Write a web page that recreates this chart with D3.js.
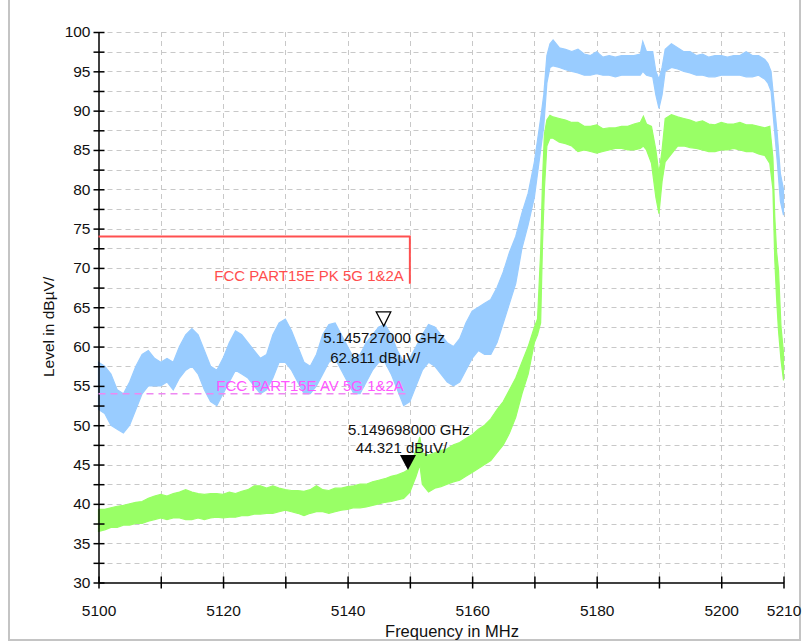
<!DOCTYPE html>
<html>
<head>
<meta charset="utf-8">
<script src="https://cdn.jsdelivr.net/npm/d3@7"></script>
<style>
  html, body { margin: 0; padding: 0; background: #fff; }
  svg { display: block; font-family: "Liberation Sans", Arial, sans-serif; }
</style>
</head>
<body>
<svg id="chart" width="807" height="643"></svg>
<script>
// ---------- DATA ----------
const peakFreq = [5100,5101,5102,5103,5104,5105,5106,5107,5108,5109,5110,5111,5112,5113,5114,5115,5116,5117,5118,5119,5120,5121,5122,5123,5124,5125,5126,5127,5128,5129,5130,5131,5132,5133,5134,5135,5136,5137,5138,5139,5140,5141,5142,5143,5144,5145,5146,5147,5148,5149,5150,5151,5152,5153,5154,5155,5156,5157,5158,5159,5160,5161,5162,5163,5164,5165,5166,5167,5168,5169,5170,5171,5171.5,5172,5172.5,5173,5174,5175,5176,5177,5178,5179,5180,5181,5182,5183,5184,5185,5186,5187,5187.4,5188,5189,5189.5,5190,5190.5,5191,5192,5193,5194,5195,5196,5197,5198,5199,5200,5201,5202,5203,5204,5205,5206,5207,5207.5,5208,5208.5,5209,5209.5,5210];
const peakHi = [58,57.5,56.5,54.5,54,55.5,57.5,59,59.5,58.5,58,58.5,58,60,61.5,62.3,61.5,59.5,57.5,57,58.5,60.5,62,61.5,60.5,59.5,58.5,59,61.5,63,63.5,62,60,58,57.5,59,61.5,62.8,63,61.5,60,58.5,59,60.5,61.5,62.5,62.8,61.5,59.5,58,58.5,60,61.5,62.8,62.5,61.5,60.5,60,61,63,64.5,65,65.5,66,67.5,69.5,72,74,77,79.5,83.5,89,92,97,98.5,99,98,97.8,97.5,97.8,97.2,97,97.5,96.8,97,96.8,97,97,97,97.2,98.8,97.5,97.5,95,94,95.5,97.8,98.5,98,97.5,97.5,97,97.2,96.8,97,97,96.8,97,97,97.5,97,97,96.5,96,95,91,87,82,80];
const peakLo = [52,51.5,50,49.5,49,50,52,54,55,55,55,55.5,54.5,56,57,57.5,56.5,54.5,53,52.5,54,55.5,57,56.5,56,55,54,54.5,56,58,58,57,55.5,54,54,55,56.5,58,58.5,57,55.5,54,54,55.5,57,58,58,56.5,54.5,52.5,53,55,57,58,57.5,56.5,55.5,55,55.5,57,58.5,59.5,59,59,60.5,63,65.5,68,72.5,75.5,79,85,88,93.5,95.5,95.7,95.5,95.2,95,94.8,94.5,94.5,94.7,94.5,94.5,94.3,94.5,94.5,94.5,94.5,95,94.5,94.3,92,90.3,92,95,95.5,95.3,95,94.8,94.5,94.5,94.3,94.3,94.5,94.5,94.5,94.5,94.3,94.3,94.5,94,93.5,92.5,88,83.5,78.5,76.7];

const avgFreq = [5100,5101,5102,5103,5104,5105,5106,5107,5108,5109,5110,5111,5112,5113,5114,5115,5116,5117,5118,5119,5120,5121,5122,5123,5124,5125,5126,5127,5128,5129,5130,5131,5132,5133,5134,5135,5136,5137,5138,5139,5140,5141,5142,5143,5144,5145,5146,5147,5148,5149,5150,5151,5151.6,5152,5153,5154,5155,5156,5157,5158,5159,5160,5161,5162,5163,5164,5165,5166,5167,5168,5169,5170,5170.5,5171,5171.3,5171.6,5172,5172.5,5173,5174,5175,5176,5177,5178,5179,5180,5181,5182,5183,5184,5185,5186,5187,5187.5,5188,5188.8,5189.5,5190,5190.5,5191,5192,5193,5194,5195,5196,5197,5198,5199,5200,5201,5202,5203,5204,5205,5206,5207,5207.8,5208.3,5208.6,5208.9,5209.2,5209.6,5210];
const avgHi = [39.3,39.3,39.5,39.7,39.8,40,40.2,40.3,40.7,41,41.2,41,41.3,41.5,41.8,41.5,41.3,41.2,41.3,41.3,41.2,41.5,41.3,41.6,41.8,42.3,42.3,42,42.3,42,41.8,41.7,41.7,41.6,41.8,42.3,41.8,41.7,42,42,42.2,42.3,42.5,42.5,42.8,43,43.2,43.5,43.7,44,44.5,47,48.5,46.5,46.2,46.5,46.8,47,47.5,47.8,48.3,48.8,49.5,50,50.8,52,53,54.5,56,58,60,62.5,63.5,72,81,87,88.8,89.4,89.2,89,88.8,88.5,88.5,88,88,88.2,87.7,87.8,87.8,88,88,88.3,88.5,89.3,88.3,88,85,82,85,89,89.5,89.2,89,88.8,88.5,88.7,88.3,88.2,88.5,88.3,88.3,88.5,88.2,88.2,88,87.8,88,84,76.5,72,69.7,62.5,59.2];
const avgLo = [36.5,36.7,37,37,37.3,37.3,37.5,37.5,37.8,38,38.2,38,38.2,38.2,38,38,38.2,38,38.2,38.3,38.2,38.3,38.3,38.5,38.5,38.7,38.7,38.8,38.8,39,39.2,39,38.8,38.5,38.8,39,39,38.8,39,39.2,39.3,39.5,39.5,39.6,39.8,40,40.2,40.3,40.5,40.7,41.5,43.5,45,42.5,41.5,42,42.2,42.5,42.8,43,43.5,44,44.5,45,45.5,46.5,47.5,49,51,54,56.5,60.5,61.5,63,73,80,85.5,86.5,86.5,86,85.8,85.5,84.8,85,84.8,84.6,84.8,85,85.2,85.2,85,85,85.2,85.5,85,83.3,79,76.9,81,83.5,84.5,85.5,85.5,85.3,85.2,85,84.8,84.8,85,85,85.2,85,84.8,84.8,84.5,84.3,83.3,80,71,66,62,58.3,55.7];

const yTickValues = [30,35,40,45,50,55,60,65,70,75,80,85,90,95,100];
const xTickLabels = [5100,5120,5140,5160,5180,5200,5210];

const pkLimit = { level: 74, endFreq: 5150, dropTo: 68, label: "FCC PART15E PK 5G 1&2A" };
const avLimit = { level: 54, endFreq: 5150, label: "FCC PART15E AV 5G 1&2A" };

const markers = [
  { freq: 5145.727, level: 62.811, f: "5.145727000 GHz", l: "62.811 dBµV/", filled: false },
  { freq: 5149.698, level: 44.321, f: "5.149698000 GHz", l: "44.321 dBµV/", filled: true }
];

// ---------- CHART ----------
const svg = d3.select("#chart");
const x = d3.scaleLinear().domain([5100, 5210]).range([98.5, 783.5]);
const y = d3.scaleLinear().domain([30, 100]).range([582.5, 32]);

// outer frame
svg.append("rect").attr("x", 9).attr("y", -2).attr("width", 791).attr("height", 642)
  .attr("fill", "none").attr("stroke", "#c4c4c4").attr("stroke-width", 2);

// grid
const grid = svg.append("g").attr("stroke", "#c8c8c8").attr("stroke-width", 1).attr("stroke-dasharray", "5,4");
grid.selectAll("line.h").data(d3.range(32.5, 100.01, 2.5)).join("line")
  .attr("x1", x(5100)).attr("x2", x(5210))
  .attr("y1", d => Math.round(y(d)) + 0.5).attr("y2", d => Math.round(y(d)) + 0.5);
grid.selectAll("line.v").data(d3.range(5110, 5210.01, 10)).join("line")
  .attr("y1", y(100)).attr("y2", y(30))
  .attr("x1", d => Math.round(x(d)) + 0.5).attr("x2", d => Math.round(x(d)) + 0.5);

// traces
const avgData = avgFreq.map((f, i) => ({ f, hi: avgHi[i], lo: avgLo[i] }));
const peakData = peakFreq.map((f, i) => ({ f, hi: peakHi[i], lo: peakLo[i] }));
const band = d3.area().x(d => x(d.f)).y0(d => y(d.lo)).y1(d => y(d.hi));
svg.append("path").datum(avgData).attr("d", band).attr("fill", "#99ff66").attr("stroke", "#99ff66").attr("stroke-width", 1.2);
svg.append("path").datum(peakData).attr("d", band).attr("fill", "#99ccff").attr("stroke", "#99ccff").attr("stroke-width", 1.2);

// axes
const yAxis = d3.axisLeft(y).tickValues(d3.range(30, 100.01, 2.5))
  .tickFormat(d => (yTickValues.includes(d) ? d : "")).tickSize(0).tickPadding(8);
const gy = svg.append("g").attr("transform", `translate(${x(5100)},0)`).call(yAxis);
gy.select(".domain").attr("stroke", "#000").attr("stroke-width", 1.5);
gy.selectAll(".tick line").attr("x1", -5).attr("x2", 6).attr("stroke", "#000").attr("stroke-width", 1.5);
gy.selectAll(".tick text").attr("font-size", 15.5).attr("fill", "#111").attr("font-family", "Liberation Sans, Arial, sans-serif");

const xAxis = d3.axisBottom(x).tickValues(d3.range(5100, 5210.01, 10))
  .tickFormat(d => (xTickLabels.includes(Math.round(d)) ? Math.round(d) : "")).tickSize(0).tickPadding(22);
const gx = svg.append("g").attr("transform", `translate(0,${y(30)})`).call(xAxis);
gx.select(".domain").attr("stroke", "#000").attr("stroke-width", 1.5);
gx.selectAll(".tick line").attr("y1", -6).attr("y2", 6).attr("stroke", "#000").attr("stroke-width", 1.5);
gx.selectAll(".tick text").attr("font-size", 15.5).attr("fill", "#111").attr("font-family", "Liberation Sans, Arial, sans-serif");

// axis titles
svg.append("text").attr("transform", `translate(54,${y(62.5)}) rotate(-90)`)
  .attr("text-anchor", "middle").attr("font-size", 15.5).attr("fill", "#111").text("Level in dBµV/");
svg.append("text").attr("x", 452).attr("y", 637)
  .attr("text-anchor", "middle").attr("font-size", 16.5).attr("fill", "#111").text("Frequency in MHz");

// limit lines
svg.append("path")
  .attr("d", `M${x(5100)},${y(pkLimit.level)}H${x(pkLimit.endFreq)}V${y(pkLimit.dropTo)}`)
  .attr("fill", "none").attr("stroke", "#ff5050").attr("stroke-width", 2);
svg.append("text").attr("x", x(pkLimit.endFreq) - 6).attr("y", 281)
  .attr("text-anchor", "end").attr("font-size", 15).attr("fill", "#ff4d4d").text(pkLimit.label);

svg.append("line").attr("x1", x(5100)).attr("x2", x(avLimit.endFreq))
  .attr("y1", y(avLimit.level)).attr("y2", y(avLimit.level))
  .attr("stroke", "#ee88f2").attr("stroke-width", 1.5).attr("stroke-dasharray", "7,5");
svg.append("text").attr("x", x(avLimit.endFreq) - 6).attr("y", 391)
  .attr("text-anchor", "end").attr("font-size", 15).attr("fill", "#ff55ff").text(avLimit.label);

// markers
markers.forEach(m => {
  const mx = x(m.freq), my = y(m.level);
  if (m.filled) {
    svg.append("path").attr("d", `M${mx - 8},${my - 15}L${mx + 8},${my - 15}L${mx},${my}Z`)
      .attr("fill", "#000");
    svg.append("text").attr("x", mx + 1).attr("y", my - 35).attr("text-anchor", "middle")
      .attr("font-size", 15).attr("fill", "#111").text(m.f);
    svg.append("text").attr("x", mx - 6.5).attr("y", my - 16.5).attr("text-anchor", "middle")
      .attr("font-size", 15).attr("fill", "#111").text(m.l);
  } else {
    svg.append("path").attr("d", `M${mx - 7},${my - 12.5}L${mx + 7.5},${my - 12.5}L${mx + 0.5},${my + 1.5}Z`)
      .attr("fill", "#fff").attr("stroke", "#000").attr("stroke-width", 1.3);
    svg.append("text").attr("x", mx + 1).attr("y", my + 19).attr("text-anchor", "middle")
      .attr("font-size", 15).attr("fill", "#111").text(m.f);
    svg.append("text").attr("x", mx - 8).attr("y", my + 38.5).attr("text-anchor", "middle")
      .attr("font-size", 15).attr("fill", "#111").text(m.l);
  }
});
</script>
</body>
</html>
